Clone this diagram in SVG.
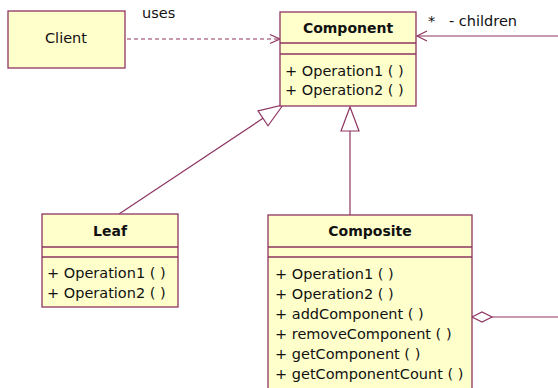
<svg xmlns="http://www.w3.org/2000/svg" width="558" height="388" viewBox="0 0 558 388">
  <style>
    .box { fill: #ffffcc; stroke: #8e3560; stroke-width: 1.3; }
    .sep { stroke: #8e3560; stroke-width: 1.3; }
    .line { stroke: #8e3560; stroke-width: 1.2; fill: none; }
    .dash { stroke: #8e3560; stroke-width: 1.2; fill: none; stroke-dasharray: 4 3; }
    .head { stroke: #8e3560; stroke-width: 1.2; fill: #ffffff; }
    text { font-family: "DejaVu Sans", Verdana, sans-serif; font-size: 14.5px; fill: #111; }
    .title { font-weight: bold; font-size: 14px; text-anchor: middle; }
    .mid { text-anchor: middle; }
  </style>

  <g id="connectors">
    <!-- Client uses Component (dependency) -->
    <line class="dash" x1="127" y1="39" x2="279" y2="39"/>
    <polyline class="line" points="270,34.5 280,39 270,43.5"/>
    <text x="142" y="18">uses</text>

    <!-- Composite children association -->
    <line class="line" x1="417" y1="36" x2="558" y2="36"/>
    <polyline class="line" points="427,31 417,36 427,41"/>
    <text x="428" y="26">*</text>
    <text x="449" y="26">- children</text>
    <polyline class="line" points="558,317 492,317"/>
    <polygon class="head" points="472,317 482,312 492,317 482,322"/>

    <!-- Leaf generalization -->
    <line class="line" x1="119" y1="214" x2="263" y2="118.3"/>
    <polygon class="head" points="283,105 268,125.8 258,110.8"/>

    <!-- Composite generalization -->
    <line class="line" x1="350" y1="215" x2="350" y2="131"/>
    <polygon class="head" points="350,107 341,131 359,131"/>
  </g>

  <g id="client">
    <rect class="box" x="8" y="11" width="117" height="57"/>
    <text class="mid" x="66" y="43">Client</text>
  </g>

  <g id="component">
    <rect class="box" x="280" y="12" width="136" height="94"/>
    <line class="sep" x1="280" y1="43" x2="416" y2="43"/>
    <line class="sep" x1="280" y1="54" x2="416" y2="54"/>
    <text class="title" x="348" y="33">Component</text>
    <text x="285" y="76">+ Operation1 ( )</text>
    <text x="285" y="95">+ Operation2 ( )</text>
  </g>

  <g id="leaf">
    <rect class="box" x="42" y="214" width="136" height="93"/>
    <line class="sep" x1="42" y1="247" x2="178" y2="247"/>
    <line class="sep" x1="42" y1="257" x2="178" y2="257"/>
    <text class="title" x="110" y="236">Leaf</text>
    <text x="47" y="278">+ Operation1 ( )</text>
    <text x="47" y="298">+ Operation2 ( )</text>
  </g>

  <g id="composite">
    <rect class="box" x="268" y="215" width="204" height="180"/>
    <line class="sep" x1="268" y1="247" x2="472" y2="247"/>
    <line class="sep" x1="268" y1="257" x2="472" y2="257"/>
    <text class="title" x="370" y="236">Composite</text>
    <text x="275" y="279">+ Operation1 ( )</text>
    <text x="275" y="299">+ Operation2 ( )</text>
    <text x="275" y="319">+ addComponent ( )</text>
    <text x="275" y="339">+ removeComponent ( )</text>
    <text x="275" y="359">+ getComponent ( )</text>
    <text x="275" y="379">+ getComponentCount ( )</text>
  </g>
</svg>
